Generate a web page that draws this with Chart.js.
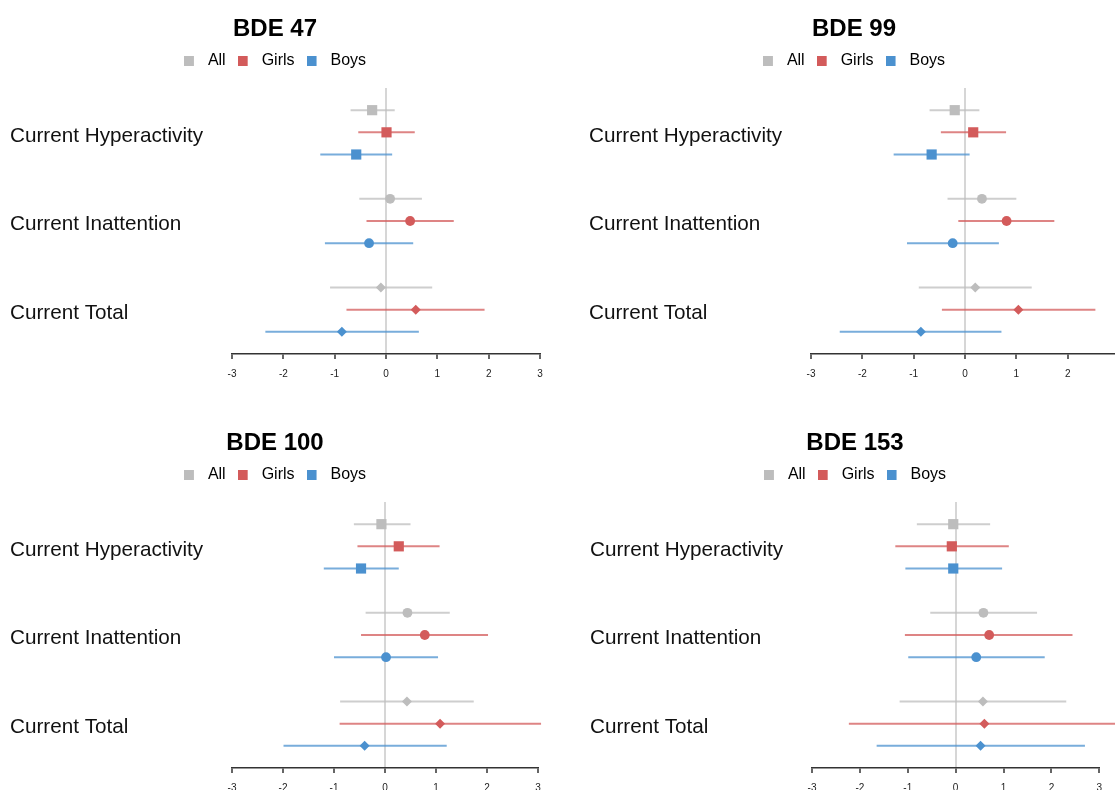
<!DOCTYPE html>
<html>
<head>
<meta charset="utf-8">
<script src="https://cdn.jsdelivr.net/npm/chart.js@4.4.1/dist/chart.umd.min.js"></script>
<style>
  html, body { margin: 0; padding: 0; background: #fff; }
  body { width: 1115px; height: 790px; overflow: hidden; position: relative; }
  canvas { position: absolute; }
</style>
</head>
<body>
<canvas id="c1" width="552" height="392" style="left:0px;top:0px"></canvas>
<canvas id="c2" width="552" height="392" style="left:579px;top:0px"></canvas>
<canvas id="c3" width="552" height="392" style="left:0px;top:414px"></canvas>
<canvas id="c4" width="552" height="392" style="left:580px;top:414px"></canvas>
<script>
// outcomes (rows) and groups
const outcomes = ['Current Hyperactivity', 'Current Inattention', 'Current Total'];
const groups = ['All', 'Girls', 'Boys'];
const xTicks = [-3, -2, -1, 0, 1, 2, 3];

// each row: [estimate, lower CI, upper CI] for Hyperactivity, Inattention, Total
const bde47All   = [[-0.27, -0.69, 0.17], [0.08, -0.52, 0.70], [-0.10, -1.09, 0.90]];
const bde47Girls = [[0.01, -0.54, 0.56], [0.47, -0.38, 1.32], [0.58, -0.77, 1.92]];
const bde47Boys  = [[-0.58, -1.28, 0.12], [-0.33, -1.19, 0.53], [-0.86, -2.35, 0.64]];

const bde99All   = [[-0.20, -0.69, 0.28], [0.33, -0.34, 1.00], [0.20, -0.90, 1.30]];
const bde99Girls = [[0.16, -0.47, 0.80], [0.81, -0.13, 1.74], [1.04, -0.45, 2.54]];
const bde99Boys  = [[-0.65, -1.39, 0.09], [-0.24, -1.13, 0.66], [-0.86, -2.44, 0.71]];

const bde100All   = [[-0.07, -0.61, 0.50], [0.44, -0.38, 1.27], [0.43, -0.88, 1.74]];
const bde100Girls = [[0.27, -0.54, 1.07], [0.78, -0.47, 2.02], [1.08, -0.89, 3.06]];
const bde100Boys  = [[-0.47, -1.20, 0.27], [0.02, -1.00, 1.04], [-0.40, -1.99, 1.21]];

const bde153All   = [[-0.05, -0.81, 0.72], [0.58, -0.53, 1.70], [0.57, -1.17, 2.31]];
const bde153Girls = [[-0.08, -1.26, 1.11], [0.70, -1.06, 2.44], [0.60, -2.23, 3.45]];
const bde153Boys  = [[-0.05, -1.05, 0.97], [0.43, -0.99, 1.86], [0.52, -1.65, 2.70]];

const pointColors = ['#bdbdbd', '#d35b5b', '#4b91cf'];
const lineColors = ['rgba(189,189,189,0.75)', 'rgba(211,91,91,0.75)', 'rgba(75,145,207,0.75)'];
const shapes = ['rect', 'circle', 'rectRot'];
const radii = [7.2, 4.9, 5];

Chart.defaults.font.family = "'Liberation Sans', Arial, Helvetica, sans-serif";

function legendIcon(color) {
    const c = document.createElement('canvas');
    c.width = 16;
    c.height = 10;
    const g = c.getContext('2d');
    g.fillStyle = color;
    g.fillRect(0, 0, 10, 10);
    return c;
}
const icons = pointColors.map(legendIcon);

function makeChart(id, title, series, rightGap) {
    const datasets = [];
    // estimates first so they sit on top of the CI lines
    series.forEach((rows, g) => {
        datasets.push({
            label: groups[g],
            data: rows.map((r, k) => ({ x: r[0], y: k * 4 + g })),
            pointStyle: shapes,
            pointRadius: radii,
            pointBackgroundColor: pointColors[g],
            pointBorderColor: pointColors[g],
            pointBorderWidth: 0,
            clip: false
        });
    });
    series.forEach((rows, g) => {
        rows.forEach((r, k) => {
            datasets.push({
                label: 'ci',
                data: [{ x: r[1], y: k * 4 + g }, { x: r[2], y: k * 4 + g }],
                showLine: true,
                borderColor: lineColors[g],
                borderWidth: 2,
                pointRadius: 0,
                clip: false
            });
        });
    });

    return new Chart(document.getElementById(id), {
        type: 'scatter',
        data: { datasets: datasets },
        options: {
            responsive: false,
            animation: false,
            devicePixelRatio: 1,
            events: [],
            layout: { padding: { left: 10, right: 12, top: 0, bottom: 2 } },
            plugins: {
                tooltip: { enabled: false },
                title: {
                    display: true,
                    text: title,
                    color: '#000',
                    font: { size: 24, weight: 'bold', lineHeight: 1 },
                    padding: { top: 17, bottom: 0 }
                },
                legend: {
                    display: true,
                    labels: {
                        usePointStyle: true,
                        pointStyleWidth: 16,
                        boxHeight: 10,
                        padding: 12,
                        color: '#111',
                        font: { size: 16 },
                        generateLabels: function() {
                            return groups.map((name, i) => ({
                                text: name,
                                pointStyle: icons[i],
                                fillStyle: pointColors[i],
                                strokeStyle: pointColors[i],
                                lineWidth: 0,
                                hidden: false,
                                datasetIndex: i
                            }));
                        }
                    }
                }
            },
            scales: {
                x: {
                    type: 'linear',
                    position: 'bottom',
                    min: -3,
                    max: 3,
                    afterBuildTicks: function(axis) {
                        axis.ticks = xTicks.map(v => ({ value: v }));
                    },
                    afterFit: function(axis) { axis.height = 36; },
                    border: { display: true, color: '#333', width: 1.5 },
                    grid: {
                        drawOnChartArea: true,
                        color: ctx => (ctx.tick && ctx.tick.value === 0) ? '#d6d6d6' : 'rgba(0,0,0,0)',
                        lineWidth: 2,
                        tickColor: '#333',
                        tickWidth: 1.5,
                        tickLength: 5
                    },
                    ticks: {
                        color: '#222',
                        font: { size: 10 },
                        padding: 9,
                        maxRotation: 0,
                        autoSkip: false
                    }
                },
                xTop: {
                    type: 'linear',
                    position: 'top',
                    min: -3,
                    max: 3,
                    ticks: { display: false },
                    grid: { display: false, drawTicks: false },
                    border: { display: false },
                    afterFit: function(axis) { axis.height = 9; }
                },
                y: {
                    type: 'linear',
                    reverse: true,
                    min: -1,
                    max: 11,
                    afterBuildTicks: function(axis) {
                        axis.ticks = [1, 5, 9].map(v => ({ value: v }));
                    },
                    afterFit: function(axis) { axis.width = 222; },
                    grid: { display: false },
                    border: { display: false },
                    ticks: {
                        crossAlign: 'far',
                        color: '#111',
                        font: { size: 20.7 },
                        labelOffset: 3.5,
                        autoSkip: false,
                        callback: v => outcomes[(v - 1) / 4]
                    }
                },
                yRight: {
                    type: 'linear',
                    position: 'right',
                    min: -1,
                    max: 11,
                    ticks: { display: false },
                    grid: { display: false, drawTicks: false },
                    border: { display: false },
                    afterFit: function(axis) { axis.width = rightGap; }
                }
            }
        }
    });
}

makeChart('c1', 'BDE 47', [bde47All, bde47Girls, bde47Boys], 0);
makeChart('c2', 'BDE 99', [bde99All, bde99Girls, bde99Boys], 0);
makeChart('c3', 'BDE 100', [bde100All, bde100Girls, bde100Boys], 2);
makeChart('c4', 'BDE 153', [bde153All, bde153Girls, bde153Boys], 20.7);
</script>
</body>
</html>
